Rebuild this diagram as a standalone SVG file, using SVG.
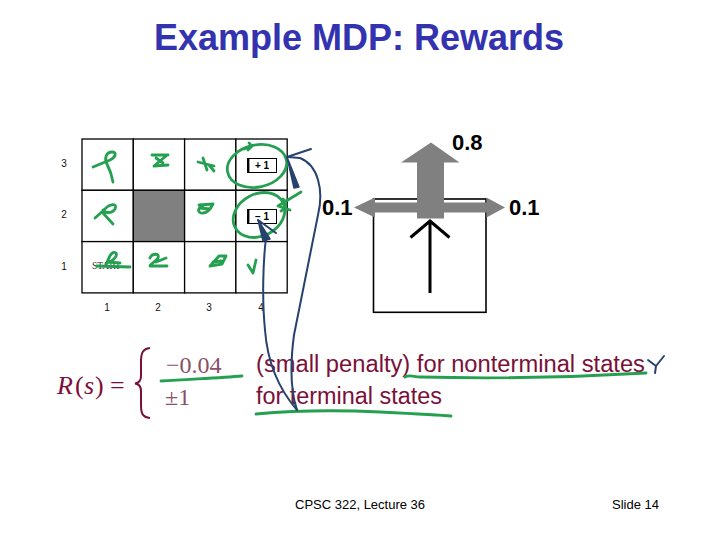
<svg xmlns="http://www.w3.org/2000/svg" width="720" height="540" viewBox="0 0 720 540">
<style>
.title{font-family:"Liberation Sans",Arial,sans-serif;font-weight:bold;font-size:36px;fill:#3333b0}
.lbl{font-family:"Liberation Sans",Arial,sans-serif;font-size:10px;fill:#111;text-anchor:middle}
.cell{fill:#fff;stroke:#000;stroke-width:1.3}
.prob{font-family:"Liberation Sans",Arial,sans-serif;font-weight:bold;font-size:22px;fill:#000}
.eq{font-family:"Liberation Sans",Arial,sans-serif;font-size:23px;fill:#7a1038}
.math{font-family:"Liberation Serif","Times New Roman",serif;font-size:26px;fill:#7a1038}
.num{font-family:"Liberation Serif","Times New Roman",serif;font-size:24px;fill:#8a5068}
.foot{font-family:"Liberation Sans",Arial,sans-serif;font-size:13px;fill:#000}
.grn{fill:none;stroke:#24a050;stroke-width:2.8;stroke-linecap:round;stroke-linejoin:round}
.blu{fill:none;stroke:#27426e;stroke-width:2;stroke-linecap:round;stroke-linejoin:round}
.gry{fill:#808080}
</style>

<text class="title" x="359" y="50" text-anchor="middle">Example MDP: Rewards</text>

<g id="grid">
  <rect class="cell" x="82" y="139" width="51.3" height="51.3"/>
  <rect class="cell" x="133.3" y="139" width="51.3" height="51.3"/>
  <rect class="cell" x="184.6" y="139" width="51.3" height="51.3"/>
  <rect class="cell" x="235.9" y="139" width="51.3" height="51.3"/>
  <rect class="cell" x="82" y="190.3" width="51.3" height="51.3"/>
  <rect x="133.3" y="190.3" width="51.3" height="51.3" fill="#808080" stroke="#000" stroke-width="1.3"/>
  <rect class="cell" x="184.6" y="190.3" width="51.3" height="51.3"/>
  <rect class="cell" x="235.9" y="190.3" width="51.3" height="51.3"/>
  <rect class="cell" x="82" y="241.6" width="51.3" height="51.3"/>
  <rect class="cell" x="133.3" y="241.6" width="51.3" height="51.3"/>
  <rect class="cell" x="184.6" y="241.6" width="51.3" height="51.3"/>
  <rect class="cell" x="235.9" y="241.6" width="51.3" height="51.3"/>
</g>

<g id="axis-labels">
  <text class="lbl" x="64" y="167">3</text>
  <text class="lbl" x="64" y="218">2</text>
  <text class="lbl" x="64" y="270">1</text>
  <text class="lbl" x="107" y="311">1</text>
  <text class="lbl" x="158" y="311">2</text>
  <text class="lbl" x="209" y="311">3</text>
  <text class="lbl" x="261" y="311">4</text>
</g>

<g id="terminal-plus">
  <rect x="247.5" y="158.5" width="29" height="14" fill="#fff" stroke="#000" stroke-width="1"/>
  <line x1="248.3" y1="158.5" x2="248.3" y2="172.5" stroke="#000" stroke-width="2.2"/>
  <text x="262" y="169" font-family="Liberation Sans,Arial,sans-serif" font-size="10" font-weight="bold" text-anchor="middle" fill="#000">+ 1</text>
</g>
<g id="terminal-minus">
  <rect x="247.5" y="209.5" width="29" height="14" fill="#fff" stroke="#000" stroke-width="1"/>
  <line x1="248.3" y1="209.5" x2="248.3" y2="223.5" stroke="#000" stroke-width="2.2"/>
  <text x="262" y="220" font-family="Liberation Sans,Arial,sans-serif" font-size="10" font-weight="bold" text-anchor="middle" fill="#000">− 1</text>
</g>
<g id="start">
  <text x="92" y="269" font-family="Liberation Serif,serif" font-size="9.5" fill="#333">START</text>
</g>

<g id="transition-model">
  <rect x="373.5" y="199" width="112.5" height="113.3" fill="#fff" stroke="#000" stroke-width="1.6"/>
  <polygon class="gry" points="354,207.5 375,197.5 375,202.5 486.5,202.5 486.5,197.5 505,207.5 486.5,217.5 486.5,212.5 375,212.5 375,217.5"/>
  <polygon class="gry" points="431,142.5 459.5,162.5 444,162.5 444,218.5 417,218.5 417,162.5 401,162.5"/>
  <path d="M430,293 L430,221 M410.5,237.5 L430,221 L449.5,237.5" fill="none" stroke="#000" stroke-width="3"/>
  <text class="prob" x="452" y="150">0.8</text>
  <text class="prob" x="322" y="215">0.1</text>
  <text class="prob" x="509" y="215">0.1</text>
</g>

<g id="reward-function">
  <text class="math" x="57" y="394" font-style="italic">R</text>
  <text class="math" x="75" y="394">(</text>
  <text class="math" x="84" y="394" font-style="italic">s</text>
  <text class="math" x="95" y="394">)</text>
  <text class="math" x="110" y="394">=</text>
  <path d="M150,348 C142,349 141,354 141,362 L141,376 C141,381 139,383 135,383.5 C139,384 141,386 141,391 L141,405 C141,413 142,417 150,418" fill="none" stroke="#7a1038" stroke-width="2"/>
  <text class="num" x="166" y="373">−0.04</text>
  <text class="num" x="165" y="405">±1</text>
  <text class="eq" x="256" y="372" textLength="389" lengthAdjust="spacingAndGlyphs">(small penalty) for nonterminal states</text>
  <text class="eq" x="256" y="404" textLength="186" lengthAdjust="spacingAndGlyphs">for terminal states</text>
</g>

<g id="annotations-green">
  <path class="grn" d="M93,167 L110,160 C116,157 117,152 112,152 C106,152 104,159 107,164 C110,170 112,176 113,182"/>
  <path class="grn" d="M152,155 L168,155 M166,156 L154,166 L168,165 M156,158 L163,163"/>
  <path class="grn" d="M198,162 L214,166 M203,158 L207,170 M209,165 L214,171"/>
  <path class="grn" d="M95,218 L104,210 C110,203 118,203 115,209 C112,214 104,213 103,210 M103,213 L113,224"/>
  <path class="grn" d="M199,205 L213,204 C210,210 206,214 201,213 C197,212 198,207 203,206 M200,208 L210,209"/>
  <path class="grn" d="M97,266 L130,267 M106,266 C108,258 112,250 116,253 C118,256 112,262 108,262 L120,263"/>
  <path class="grn" d="M150,258 C152,253 160,253 158,258 C156,262 150,264 150,266 L167,266 M156,262 L166,258"/>
  <path class="grn" d="M210,266 L219,256 L226,256 L222,264 Z M213,262 L221,261"/>
  <path class="grn" d="M248,265 L253,273 L256,260"/>
  <ellipse class="grn" cx="257" cy="166" rx="30" ry="21" transform="rotate(-12 257 166)"/>
  <path class="grn" d="M244,149 L252,146 M249,143 L252,146 L248,150"/>
  <ellipse class="grn" cx="259" cy="215" rx="27" ry="21" transform="rotate(-28 259 215)"/>
  <path class="grn" d="M301,192 L278,206 L290,210 M283,199 C287,202 287,208 281,211"/>
  <path class="grn" d="M161,381 C190,379 220,378 242,376"/>
  <path class="grn" d="M405,377 C410,374 414,377 420,377 C500,379 580,377 646,373"/>
  <path class="grn" d="M256,414 C300,410 340,410 380,412 C420,414 440,415 451,416"/>
</g>

<g id="connectors">
  <path class="blu" d="M297,410 C292,395 289,372 294,335 L318,215 C324,190 318,165 300,158 L288,157"/>
  <path d="M287,157 L294,188 L299,187 Z" fill="#27426e" stroke="#27426e" stroke-width="1.5" stroke-linejoin="round"/>
  <path class="blu" d="M287,157 L311,149"/>
  <path class="blu" d="M297,410 C284,395 268,370 265,330 C262,300 263,262 266,238"/>
  <path d="M258,220 L263,241 L270,239 Z" fill="#27426e" stroke="#27426e" stroke-width="1.5" stroke-linejoin="round"/>
  <path class="blu" d="M258,220 L276,233"/>
  <path class="blu" d="M648,360 L656,366 L664,356 M656,366 L655,373" stroke-width="2.6"/>
</g>

<g id="footer">
  <text class="foot" x="295" y="509">CPSC 322, Lecture 36</text>
  <text class="foot" x="612" y="509">Slide 14</text>
</g>
</svg>
